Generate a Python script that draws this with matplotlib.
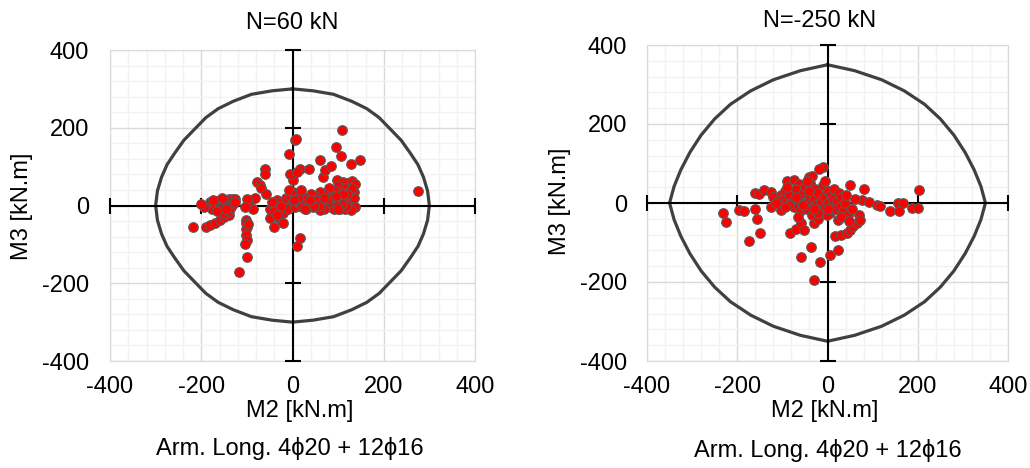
import numpy as np
import matplotlib
matplotlib.use('Agg')
import matplotlib.pyplot as plt

plt.rcParams['font.family'] = ['Liberation Sans', 'DejaVu Sans']
plt.rcParams['axes.unicode_minus'] = False

# ---- dados ----
titles = ['N=60 kN', 'N=-250 kN']
caption = 'Arm. Long. 4\u03d520 + 12\u03d516'
tick_values = [-400, -200, 0, 200, 400]

# N = 60 kN : esforcos (M2, M3)
n60_m2 = [-217, -190, -181, -170, -160, -150, -140,
          -185, -177, -180, -170, -165, -160, -155, -152, -145, -140, -133, -126,
          -150, -140, -135, -130, -195, -200, -175, -165, -155, -145, -125,
          -93, -87, -82, -77, -71, -68, -60, -60, -58, -100, -105,
          -102, -102, -100, -103, -102, -100, -104, -100, -117, -98,
          -49, -42, -35, -27, -13, 2, -49, -30, -20, -40, -10, -25, -15, -5, 0, -8,
          5, 10, -35, -45, -20, -40,
          -7, 5, 8, 16, 2, -6, 10, 36, 60, 66, 71, 84, 95, 106, 108, 128, 148, 276,
          97, 110, 120, 130, 137, 100, 115, 125, 135, 105, 90, 80, 70, 60, 50, 40,
          30, 20, 15, 25, 35, 45, 55, 65, 75, 85, 95, 105, 115, 125, 130, 120, 110,
          100, 90, 80, 70, 60, 50, 40, 30, 20, 135, 137, 128, 118, 108, 98, 88, 78,
          68, 58, 48, 38, 28, 130, 120, 110, 100, 95, 8, 12, 3, 18, 16, 9]
n60_m3 = [-55, -55, -50, -45, -38, -30, -25,
          0, -8, 8, 5, 12, 0, -5, 15, 10, 18, 18, 18,
          -20, -15, -5, 5, -5, 5, 15, -15, 20, -10, 10,
          9, -8, 20, 60, 52, 44, 95, 82, 30, 18, -5,
          -38, -46, -55, -60, -76, -89, -100, -132, -170, -48,
          -8, 5, 14, 10, 5, 0, -33, -33, -20, -15, -10, 0, 20, 25, 35, 40,
          -5, 10, -25, 10, -45, -55,
          133, 168, 170, 95, 65, 81, 85, 93, 116, 73, 92, 101, 150, 127, 193, 108, 118, 37,
          65, 60, 58, 62, 55, 50, 45, 40, 35, 35, 40, 45, 30, 35, 25, 30,
          20, 25, 10, 5, 0, -5, 5, 10, 0, -5, 5, -8, -10, -5, 10, 15, 20,
          15, -10, 10, -8, -12, 15, 10, -10, -5, 20, -5, -12, 0, 5, -2, 22, 18,
          20, -2, 0, 15, -8, 45, 30, 30, -10, 25, 30, 20, 15, 40, -83, -104]

# N = -250 kN : esforcos (M2, M3)
n250_m2 = [-231, -226, -197, -184, -161, -156, -150, -175, -160, -152, -140, -126,
           -125, -102, -104, -101, -90, -74, -64, -42, -34, -9, -18, -82, -69, -59,
           -53, -31, -59, -37, -16, -31, 6, 24, 17, 30, 43, 50, 57, 65, 69, 72, 24,
           49, 80, 76, 93, 109, 116, 139, 157, 168, 159, 187, 201, 203,
           -120, -110, -95, -85, -80, -75, -70, -65, -60, -55, -50, -48, -45, -40,
           -38, -35, -30, -28, -25, -22, -20, -15, -12, -10, -8, -5, 0, 2, 5, 8, 10,
           12, 15, 18, 20, 25, 28, 30, 35, 38, 42, 45, -65, -85, -95, -45, -55, -20,
           -2, 30, -70, -90, -115, 60, 55, 48, -5, 0, -30, -42]
n250_m3 = [-25, -47, -17, -21, -14, -41, -76, -97, 25, 24, 34, 28,
           -11, -17, 21, 10, 55, 59, 49, 66, 69, 91, 86, -76, -66, -51,
           -68, -51, -137, -111, -150, -194, -131, -120, -84, -80, -76, -69, -59, -51, -30, -42, -42,
           45, 35, 8, 2, -4, -7, -19, 0, 0, -21, -13, -13, 32,
           15, 5, 30, 20, 0, -10, 35, 10, -20, 25, 40, 0, -15, 20,
           50, -30, 10, 35, -5, -40, 25, 5, -20, 45, 15, -10, 30, 0, -25, 20, -5,
           10, 35, -15, 5, 25, -10, 15, -20, 0, 20, -30, -35, -5, -10, 55, -5, -25,
           -30, -35, 15, 40, 0, 10, -15, -45, 55, -15, -15, 30]

# envoltorias (diagrama de interacao)
env60_m2 = [0, 45, 90, 130, 163, 190, 214, 238, 258, 275, 287, 296, 300,
            296, 287, 275, 258, 238, 214, 190, 163, 130, 90, 45, 0,
            -45, -90, -130, -163, -190, -214, -238, -258, -275, -287, -296, -300,
            -296, -287, -275, -258, -238, -214, -190, -163, -130, -90, -45, 0]
env60_m3 = [300, 295, 286, 268, 249, 226, 197, 168, 135, 105, 73, 38, 0,
            -38, -73, -105, -135, -168, -197, -226, -249, -268, -286, -295, -300,
            -295, -286, -268, -249, -226, -197, -168, -135, -105, -73, -38, 0,
            38, 73, 105, 135, 168, 197, 226, 249, 268, 286, 295, 300]
env250_m2 = [0, 60, 120, 170, 215, 250, 280, 305, 325, 340, 350,
             340, 325, 305, 280, 250, 215, 170, 120, 60, 0,
             -60, -120, -170, -215, -250, -280, -305, -325, -340, -350,
             -340, -325, -305, -280, -250, -215, -170, -120, -60, 0]
env250_m3 = [350, 335, 312, 284, 250, 213, 172, 128, 84, 42, 0,
             -42, -84, -128, -172, -213, -250, -284, -312, -335, -350,
             -335, -312, -284, -250, -213, -172, -128, -84, -42, 0,
             42, 84, 128, 172, 213, 250, 284, 312, 335, 350]

FS = 17


def plotPainel(ax, m2, m3, env_m2, env_m3, ypad):
    ax.set_xlim(-400, 400)
    ax.set_ylim(-400, 400)
    ax.set_xticks(tick_values)
    ax.set_yticks(tick_values)
    ax.set_xticks(np.arange(-400, 401, 40), minor=True)
    ax.set_yticks(np.arange(-400, 401, 40), minor=True)
    ax.grid(which='minor', color='#f2f2f2', lw=1)
    ax.grid(which='major', color='#d9d9d9', lw=1)
    ax.set_axisbelow(True)
    for s in ax.spines.values():
        s.set_color('#d9d9d9')
    ax.tick_params(which='both', length=0, labelsize=FS)
    ax.tick_params(axis='y', pad=ypad)
    ax.tick_params(axis='x', pad=10.5)

    # eixos cruzando no zero
    ax.axhline(0, color='black', lw=1.5, zorder=3)
    ax.axvline(0, color='black', lw=1.5, zorder=3)
    marcas = [t for t in tick_values if t != 0]
    ax.plot(marcas, [0] * len(marcas), ls='none', marker='|', ms=11, mew=1.5,
            color='black', clip_on=False, zorder=3)
    ax.plot([0] * len(marcas), marcas, ls='none', marker='_', ms=11, mew=1.5,
            color='black', clip_on=False, zorder=3)

    # envoltoria e pontos
    ax.plot(env_m2, env_m3, color='#404040', lw=2.3, zorder=2)
    ax.scatter(m2, m3, s=48, c='#ff0000', edgecolors='#595959', linewidths=0.8, zorder=4)


fig = plt.figure(figsize=(10.3, 4.68), dpi=100)
ax1 = fig.add_axes([110 / 1030, 1 - 361 / 468, 365 / 1030, 311 / 468])
ax2 = fig.add_axes([647 / 1030, 1 - 361 / 468, 361 / 1030, 316 / 468])

plotPainel(ax1, n60_m2, n60_m3, env60_m2, env60_m3, 15)
plotPainel(ax2, n250_m2, n250_m3, env250_m2, env250_m3, 14.5)

# textos
fig.text(292 / 1030, 1 - 23 / 468, titles[0], fontsize=FS, ha='center', va='center')
fig.text(820 / 1030, 1 - 21 / 468, titles[1], fontsize=FS, ha='center', va='center')
fig.text(300 / 1030, 1 - 411 / 468, 'M2 [kN.m]', fontsize=FS, ha='center', va='center')
fig.text(825 / 1030, 1 - 411 / 468, 'M2 [kN.m]', fontsize=FS, ha='center', va='center')
fig.text(22 / 1030, 1 - 206 / 468, 'M3 [kN.m]', fontsize=FS, ha='center', va='center', rotation=90)
fig.text(560 / 1030, 1 - 201 / 468, 'M3 [kN.m]', fontsize=FS, ha='center', va='center', rotation=90)
fig.text(290 / 1030, 1 - 448 / 468, caption, fontsize=FS, ha='center', va='center')
fig.text(828 / 1030, 1 - 451 / 468, caption, fontsize=FS, ha='center', va='center')

fig.savefig('out.png', dpi=100)
